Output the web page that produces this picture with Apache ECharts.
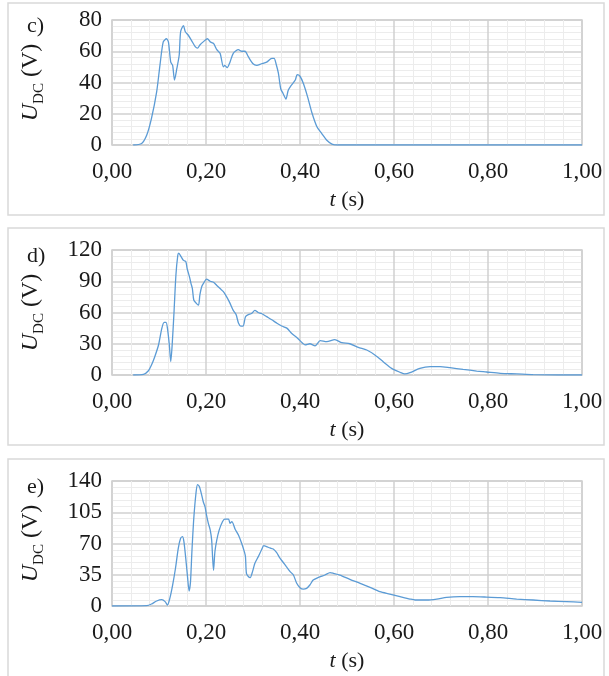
<!DOCTYPE html>
<html>
<head>
<meta charset="utf-8">
<script src="https://cdn.jsdelivr.net/npm/echarts@6/dist/echarts.min.js"></script>
<style>
html,body{margin:0;padding:0;background:#fff;}
#chart{width:609px;height:676px;}
</style>
</head>
<body>
<div id="chart"></div>
<script>
// ---- data ----
const panelLabels = ['c)', 'd)', 'e)'];
const xTicks = [0, 0.2, 0.4, 0.6, 0.8, 1.0];
const yMaxes = [80, 120, 140];
const yIntervals = [20, 30, 35];

const tC = [0.045,0.063,0.074,0.084,0.095,0.102,0.109,0.116,0.12,0.125,0.129,0.133,0.138,0.143,0.146,0.152,0.156,0.162,0.169,0.177,0.182,0.187,0.194,0.203,0.209,0.216,0.223,0.23,0.237,0.24,0.245,0.251,0.258,0.269,0.276,0.283,0.29,0.3,0.308,0.318,0.329,0.34,0.345,0.349,0.354,0.359,0.364,0.37,0.375,0.382,0.39,0.394,0.4,0.407,0.416,0.425,0.436,0.446,0.457,0.468,0.48,0.6,0.8,1.0];
const uC = [0,1,6.4,17,34,51,66,68,66,53,51,41.6,49,57.6,72.5,76.4,72.5,70.4,67,63,62,64,66,68,66,65,61,58.7,50,51,49.5,53,58.7,61,60,60,56.5,52,51,52,53,55.5,55.5,52,46,36,33,29.4,35,38.4,41.6,45,44,39.5,31,21,11.7,7.5,3,0.6,0,0,0,0];

const tD = [0.045,0.067,0.077,0.084,0.091,0.099,0.106,0.111,0.115,0.118,0.122,0.125,0.128,0.132,0.136,0.14,0.142,0.147,0.152,0.157,0.16,0.165,0.168,0.171,0.174,0.179,0.184,0.187,0.191,0.196,0.201,0.209,0.216,0.223,0.23,0.237,0.244,0.251,0.258,0.264,0.269,0.274,0.279,0.284,0.29,0.297,0.304,0.311,0.318,0.329,0.34,0.35,0.361,0.372,0.382,0.393,0.4,0.411,0.421,0.432,0.443,0.457,0.474,0.489,0.506,0.524,0.542,0.56,0.577,0.595,0.613,0.623,0.634,0.655,0.677,0.698,0.719,0.747,0.776,0.797,0.826,0.861,0.896,0.95,1.0];
const uD = [0,0.6,3.8,9.6,17.6,28.8,44.8,50.5,50.5,44.8,28.8,12.8,28.8,60.8,96,115,117,113.6,110,109,102,94,88,83,72,69,67,77,85,89,92,90,89,86,83,80,75,69,62,58,50,47,47,56,58,59,62,60,59,56,53,50,47,45,40,36,33,29,30,28,33,32,34,31,30,26.5,24,19,12.8,6.4,2.6,1,2.2,6.4,8,8,7,5.4,3.8,2.9,1.6,1,0.3,0,0];

const tE = [0,0.074,0.084,0.095,0.106,0.113,0.118,0.123,0.129,0.135,0.141,0.146,0.15,0.153,0.157,0.161,0.164,0.167,0.17,0.174,0.179,0.182,0.186,0.191,0.194,0.198,0.201,0.205,0.209,0.212,0.214,0.216,0.219,0.223,0.228,0.235,0.24,0.248,0.251,0.255,0.262,0.269,0.276,0.282,0.284,0.286,0.29,0.294,0.299,0.304,0.311,0.318,0.323,0.329,0.336,0.343,0.35,0.357,0.364,0.371,0.379,0.386,0.393,0.4,0.407,0.414,0.421,0.428,0.439,0.453,0.464,0.471,0.485,0.506,0.528,0.549,0.57,0.591,0.613,0.634,0.645,0.67,0.691,0.712,0.74,0.768,0.797,0.826,0.861,0.896,0.932,0.967,1.0];
const uE = [0,0.4,2.2,5.6,7.1,4.9,1.1,8.6,23.5,42,64.6,75.8,77.6,72,53,31,16.8,27,60.8,98,128,136,133.6,124,117,111,102,92.6,85,74,55,40,61,74,85,94.4,97.4,97.4,92.6,94.4,86,79.5,70,60,55,36.6,33,31.7,38.5,47.8,55,62.7,67.6,66.5,65,63.8,60,54,49,44,38.5,34.7,25.4,20.5,19,19.8,23.5,29,32,34.7,37.3,36.6,34.7,29.9,25.4,20.9,16,13.4,10.5,7.8,6.7,6.7,7.8,9.7,10.5,10.5,10,9.3,7.8,6.7,5.6,4.9,4.1];

const tSeries = [tC, tD, tE];
const uSeries = [uC, uD, uE];

// ---- layout ----
const gridTops = [20, 250, 481];
const boxes = [[8,3,596,212],[8,228,596,217],[8,459,596,222]];
const labelY = [27, 257, 488];
const serif = '"Liberation Serif","Times New Roman",serif';
const txt = '#1a1a1a';

const chart = echarts.init(document.getElementById('chart'), null, {renderer:'canvas'});

const grids = [], xAxes = [], yAxes = [], series = [], graphics = [];
for (let i = 0; i < 3; i++) {
  grids.push({left:112, top:gridTops[i], width:470, height:125, show:true, borderColor:'#d0d0d0', borderWidth:1.5, backgroundColor:'transparent'});
  xAxes.push({
    type:'value', gridIndex:i, min:0, max:1, interval:0.2,
    axisLine:{show:false}, axisTick:{show:false},
    axisLabel:{fontFamily:serif, fontSize:23, color:txt, margin:15, formatter:v => v.toFixed(2).replace('.', ',')},
    splitLine:{show:true, lineStyle:{color:'#d0d0d0', width:1.5}},
    minorTick:{show:false, splitNumber:5},
    minorSplitLine:{show:true, lineStyle:{color:'#ececec', width:1}},
    name:'{i|t} (s)', nameLocation:'middle', nameGap:44,
    nameTextStyle:{fontFamily:serif, fontSize:22, color:txt, rich:{i:{fontFamily:serif, fontSize:22, fontStyle:'italic', color:txt}}}
  });
  yAxes.push({
    type:'value', gridIndex:i, min:0, max:yMaxes[i], interval:yIntervals[i],
    axisLine:{show:false}, axisTick:{show:false},
    axisLabel:{fontFamily:serif, fontSize:23, color:txt, margin:10},
    splitLine:{show:true, lineStyle:{color:'#d0d0d0', width:1.5}},
    minorTick:{show:false, splitNumber:5},
    minorSplitLine:{show:true, lineStyle:{color:'#ececec', width:1}},
    name:'{u|U}{dc|DC}{v| (V)}', nameLocation:'middle', nameGap:69, nameRotate:90,
    nameTextStyle:{fontFamily:serif, fontSize:23, color:txt, rich:{
      u:{fontFamily:serif, fontSize:24, fontStyle:'italic', color:txt, verticalAlign:'bottom'},
      dc:{fontFamily:serif, fontSize:15, color:txt, verticalAlign:'bottom', padding:[0,0,-4,0]},
      v:{fontFamily:serif, fontSize:24, color:txt, verticalAlign:'bottom'}
    }}
  });
  series.push({
    type:'line', xAxisIndex:i, yAxisIndex:i, showSymbol:false, smooth:0.25,
    lineStyle:{color:'#5b9bd5', width:1.3},
    data: tSeries[i].map((t, k) => [t, uSeries[i][k]])
  });
  const b = boxes[i];
  graphics.push({type:'rect', shape:{x:b[0], y:b[1], width:b[2], height:b[3]}, style:{fill:null, stroke:'#d9d9d9', lineWidth:1.5}, silent:true});
  graphics.push({type:'text', left:27, top:labelY[i]-12, style:{text:panelLabels[i], font:'22px ' + serif, fill:txt}});
}

chart.setOption({
  animation:false,
  backgroundColor:'#fff',
  grid:grids, xAxis:xAxes, yAxis:yAxes, series:series, graphic:graphics
});
</script>
</body>
</html>
